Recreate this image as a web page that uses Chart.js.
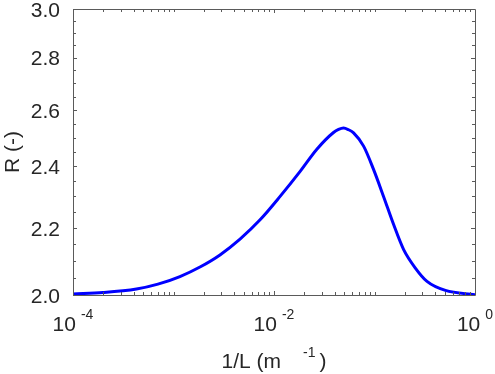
<!DOCTYPE html>
<html>
<head>
<meta charset="utf-8">
<script src="https://cdn.jsdelivr.net/npm/chart.js@4"></script>
<style>
    html, body { margin: 0; padding: 0; background: #fff; }
    #wrap { width: 495px; height: 374px; }
</style>
</head>
<body>
<div id="wrap"><canvas id="chart" width="495" height="374"></canvas></div>
<script>
// values
const invL = [1e-4, 1.99e-4, 4.28e-4, 7.0e-4, 1.159e-3, 1.834e-3, 2.9e-3, 4.59e-3, 7.27e-3, 0.0115,
    0.0182, 0.0267, 0.0391, 0.0439, 0.0492, 0.0552, 0.0619, 0.0779, 0.098, 0.123,
    0.155, 0.195, 0.255, 0.333, 0.508, 1.0];
const ratio = [2.003, 2.007, 2.017, 2.031, 2.053, 2.081, 2.117, 2.165, 2.225, 2.300,
    2.383, 2.459, 2.518, 2.529, 2.534, 2.528, 2.517, 2.470, 2.389, 2.300,
    2.210, 2.133, 2.078, 2.039, 2.013, 2.001];

const xTicks = [1e-4, 1e-2, 1];
const xTickExp = ['-4', '-2', '0'];
const yTicks = [2.0, 2.2, 2.4, 2.6, 2.8, 3.0];
const yMinorStep = 0.05;

const FONT = '"Liberation Sans", Arial, Helvetica, sans-serif';
const TEXT = '#262626';
const AXIS = '#5a5a5a';

function xMinorTicks() {
    const out = [];
    for (let e = -4; e < 0; e++) {
        for (let m = 1; m < 10; m++) out.push(m * Math.pow(10, e));
    }
    return out;
}

function yMinorTicks() {
    const out = [];
    for (let v = 2.0; v <= 3.0001; v += yMinorStep) out.push(+v.toFixed(2));
    return out;
}

function drawPow(ctx, base, exp, cx, baseY, supY) {
    ctx.font = `21px ${FONT}`;
    const wb = ctx.measureText(base).width;
    ctx.font = `14px ${FONT}`;
    const we = ctx.measureText(exp).width;
    const gap = 5;
    const left = cx - (wb + gap + we) / 2;
    ctx.font = `21px ${FONT}`;
    ctx.fillText(base, left, baseY);
    ctx.font = `14px ${FONT}`;
    ctx.fillText(exp, left + wb + gap, supY);
}

const matlabAxes = {
    id: 'matlabAxes',
    afterDraw(chart) {
        const { ctx, chartArea: a, scales } = chart;
        const xs = scales.x, ys = scales.y;
        ctx.save();
        ctx.strokeStyle = AXIS;
        ctx.lineWidth = 1;

        // box
        ctx.beginPath();
        ctx.rect(Math.round(a.left) + 0.5, Math.round(a.top) + 0.5,
            Math.round(a.right - a.left), Math.round(a.bottom - a.top));
        ctx.stroke();

        // inward ticks
        ctx.beginPath();
        xMinorTicks().forEach(v => {
            const px = Math.round(xs.getPixelForValue(v)) + 0.5;
            const len = xTicks.includes(v) ? 4 : 3;
            ctx.moveTo(px, a.bottom); ctx.lineTo(px, a.bottom - len);
            ctx.moveTo(px, a.top); ctx.lineTo(px, a.top + len);
        });
        yMinorTicks().forEach(v => {
            const py = Math.round(ys.getPixelForValue(v)) + 0.5;
            const len = yTicks.some(t => Math.abs(t - v) < 1e-6) ? 4 : 3;
            ctx.moveTo(a.left, py); ctx.lineTo(a.left + len, py);
            ctx.moveTo(a.right, py); ctx.lineTo(a.right - len, py);
        });
        ctx.stroke();

        // tick labels
        ctx.fillStyle = TEXT;
        ctx.font = `21px ${FONT}`;
        ctx.textAlign = 'right';
        ctx.textBaseline = 'middle';
        yTicks.forEach(v => {
            ctx.fillText(v.toFixed(1), a.left - 13, ys.getPixelForValue(v) + 2);
        });
        ctx.textAlign = 'left';
        ctx.textBaseline = 'alphabetic';
        xTicks.forEach((v, i) => {
            drawPow(ctx, '10', xTickExp[i], xs.getPixelForValue(v), a.bottom + 36, a.bottom + 24);
        });

        // x title: 1/L (m^-1)
        const cx = (a.left + a.right) / 2;
        ctx.font = `21px ${FONT}`;
        const p1 = '1/L (m', p3 = ')';
        const w1 = ctx.measureText(p1).width;
        const w3 = ctx.measureText(p3).width;
        ctx.font = `14px ${FONT}`;
        const w2 = ctx.measureText('-1').width;
        const g1 = 22, g2 = 4;
        const left = cx - (w1 + g1 + w2 + g2 + w3) / 2;
        ctx.font = `21px ${FONT}`;
        ctx.fillText(p1, left, a.bottom + 73);
        ctx.fillText(p3, left + w1 + g1 + w2 + g2, a.bottom + 73);
        ctx.font = `14px ${FONT}`;
        ctx.fillText('-1', left + w1 + g1, a.bottom + 62);

        // y title
        ctx.save();
        ctx.translate(a.left - 54, (a.top + a.bottom) / 2);
        ctx.rotate(-Math.PI / 2);
        ctx.font = `21px ${FONT}`;
        ctx.textAlign = 'center';
        ctx.fillText('R (-)', 0, 0);
        ctx.restore();

        ctx.restore();
    }
};

function init() {
    const ctx = document.getElementById('chart').getContext('2d');
    new Chart(ctx, {
        type: 'line',
        data: {
            datasets: [{
                data: invL.map((x, i) => ({ x: x, y: ratio[i] })),
                borderColor: '#0000ff',
                borderWidth: 3,
                pointRadius: 0,
                fill: false,
                cubicInterpolationMode: 'monotone',
            }]
        },
        options: {
            responsive: false,
            animation: false,
            devicePixelRatio: 1,
            layout: { padding: { left: 73, top: 9, right: 20, bottom: 79 } },
            plugins: { legend: { display: false }, tooltip: { enabled: false } },
            scales: {
                x: { type: 'logarithmic', min: 1e-4, max: 1, display: false },
                y: { type: 'logarithmic', min: 2, max: 3, display: false }
            }
        },
        plugins: [matlabAxes]
    });
}

document.addEventListener('DOMContentLoaded', init);
</script>
</body>
</html>
